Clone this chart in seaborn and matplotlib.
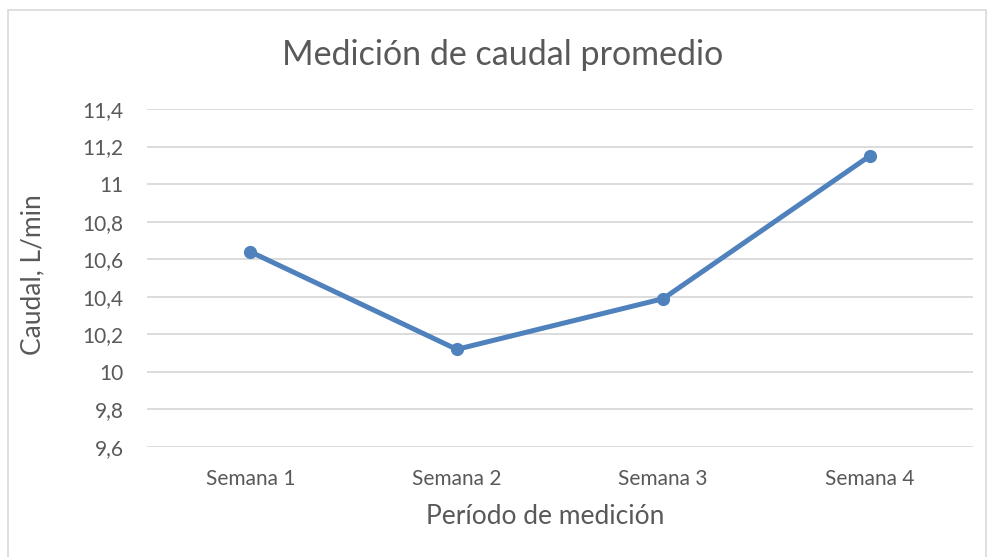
import pandas as pd
import matplotlib
matplotlib.use("Agg")
import matplotlib.pyplot as plt
import seaborn as sns
from matplotlib.patches import Rectangle

# Data
semanas = ["Semana 1", "Semana 2", "Semana 3", "Semana 4"]
caudal = [10.64, 10.12, 10.39, 11.15]
y_ticks = [9.6, 9.8, 10.0, 10.2, 10.4, 10.6, 10.8, 11.0, 11.2, 11.4]
y_tick_labels = ["9,6", "9,8", "10", "10,2", "10,4", "10,6", "10,8", "11", "11,2", "11,4"]

sns.set_style("white")
plt.rcParams['font.family'] = ['Lato', 'DejaVu Sans']

text_color = "#595959"
line_color = "#4F81BD"
grid_color = "#D9D9D9"

df = pd.DataFrame({"semana": semanas, "caudal": caudal})

fig = plt.figure(figsize=(9.92, 5.57), dpi=100)
ax = fig.add_axes([147 / 992, 1 - 447 / 557, (973 - 147) / 992, (447 - 109) / 557])

sns.lineplot(data=df, x="semana", y="caudal", ax=ax, color=line_color,
             linewidth=3.6, marker="o", markersize=9.5, markeredgewidth=0,
             zorder=3)

ax.set_xlim(-0.5, 3.5)
ax.set_ylim(9.6, 11.4)
ax.set_yticks(y_ticks)
ax.set_yticklabels(y_tick_labels)
ax.yaxis.grid(True, color=grid_color, linewidth=1.3)
ax.set_axisbelow(True)
for s in ax.spines.values():
    s.set_visible(False)
ax.tick_params(axis="both", length=0, labelsize=15, colors=text_color)
ax.tick_params(axis="y", pad=17)
ax.tick_params(axis="x", pad=16)

ax.set_xlabel("Período de medición", fontsize=19, color=text_color)
ax.set_ylabel("Caudal, L/min", fontsize=19, color=text_color)
ax.xaxis.label.set_va("center")
ax.yaxis.label.set_va("center")
ax.xaxis.set_label_coords(0.482, -0.207)
ax.yaxis.set_label_coords(-0.138, 0.51)

fig.text(503 / 992, 1 - 55 / 557, "Medición de caudal promedio", fontsize=24.5,
         color=text_color, ha="center", va="center")

# light chart border like the spreadsheet chart frame
fig.patches.append(Rectangle((8 / 992, -0.05), (986 - 8) / 992, 1.05 - 10 / 557,
                             transform=fig.transFigure, fill=False,
                             edgecolor=grid_color, linewidth=1.2))

fig.savefig("out.png", dpi=100, facecolor="white")
